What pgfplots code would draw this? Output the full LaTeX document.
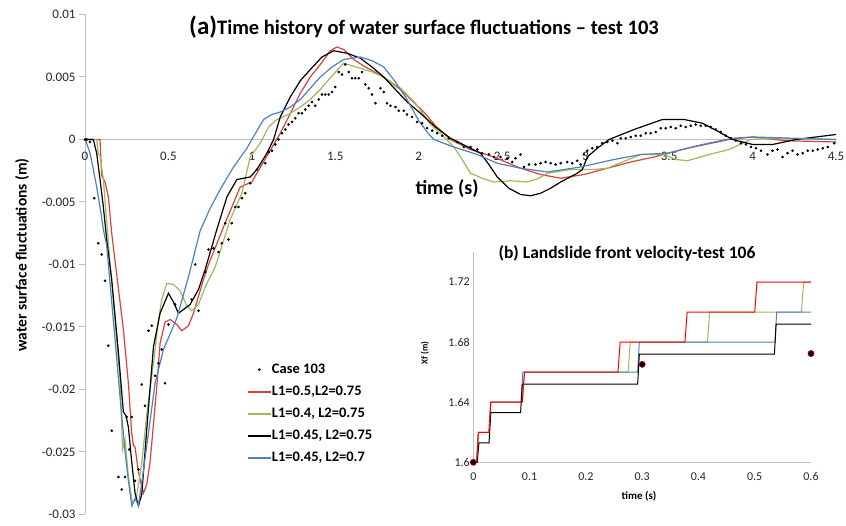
\documentclass[border=0pt]{standalone}
\usepackage{fontspec}
\setmainfont{Carlito}
\usepackage{pgfplots}
\pgfplotsset{compat=1.18}
\definecolor{cred}{RGB}{220,64,60}
\definecolor{cgreen}{RGB}{155,187,89}
\definecolor{cblue}{RGB}{79,129,189}
\definecolor{axgray}{RGB}{190,190,190}
\definecolor{ired}{RGB}{255,0,0}
\pgfplotsset{
  dotlegend/.style={legend image code/.code={\fill[black] (11pt,0pt) circle[radius=1.1pt];}},
  redlegend/.style={legend image code/.code={\fill[cred] (0pt,-0.5pt) rectangle (22pt,0.5pt);}},
  greenlegend/.style={legend image code/.code={\fill[cgreen] (0pt,-0.5pt) rectangle (22pt,0.5pt);}},
  blacklegend/.style={legend image code/.code={\fill[black] (0pt,-0.5pt) rectangle (22pt,0.5pt);}},
  bluelegend/.style={legend image code/.code={\fill[cblue] (0pt,-0.5pt) rectangle (22pt,0.5pt);}},
}
\begin{document}
\begin{tikzpicture}[x=1pt,y=1pt]
\useasboundingbox (0,0) rectangle (846,526);
\begin{axis}[
  at={(85pt,11.5pt)}, anchor=south west,
  scale only axis, width=751pt, height=500pt,
  xmin=0, xmax=4.5, ymin=-0.03, ymax=0.01,
  axis x line*=middle, axis y line*=left,
  hide obscured x ticks=false,
  axis line style={axgray, line width=1pt},
  xtick={0,0.5,1,1.5,2,2.5,3,3.5,4,4.5},
  xticklabels={0,0.5,1,1.5,2,2.5,3,3.5,4,4.5},
  ytick={-0.03,-0.025,-0.02,-0.015,-0.01,-0.005,0,0.005,0.01},
  yticklabels={-0.03,-0.025,-0.02,-0.015,-0.01,-0.005,0,0.005,0.01},
  scaled y ticks=false,
  tick align=outside, major tick length=6pt,
  xtick style={draw=none}, ytick style={axgray, line width=1pt},
  tick label style={font=\fontsize{13}{13}\selectfont, text=black!85},
  x tick label style={yshift=-3pt},
  clip=false,
  legend style={at={(0.2165,0.303)}, anchor=north west, draw=none, fill=none,
    font=\bfseries\fontsize{14.5}{14.5}\selectfont, row sep=9pt, inner sep=0pt,
    nodes={inner sep=1pt, text height=9pt, text depth=2pt}},
  legend cell align=left,
]
\addplot[only marks, mark=*, mark size=1.1pt, black, dotlegend] coordinates {
(0,0) (0.01,0) (0.03,-0.0002) (0.056,-0.0047) (0.08,-0.0083) (0.10,-0.0092) (0.12,-0.0113)
(0.14,-0.0165) (0.16,-0.0233) (0.20,-0.0270) (0.22,-0.0280) (0.24,-0.0270) (0.25,-0.0222)
(0.265,-0.0248) (0.28,-0.0222) (0.30,-0.0273) (0.32,-0.0264) (0.34,-0.0196) (0.36,-0.0213)
(0.38,-0.0153) (0.40,-0.0149) (0.42,-0.0189) (0.44,-0.0179) (0.46,-0.0168) (0.48,-0.0195)
(0.50,-0.0148) (0.54,-0.0132) (0.64,-0.0128) (0.66,-0.0100) (0.68,-0.0137) (0.72,-0.0106)
(0.74,-0.0088) (0.77,-0.0087) (0.80,-0.0090) (0.82,-0.0083) (0.84,-0.0067) (0.86,-0.0080)
(0.88,-0.0067) (0.90,-0.0054) (0.92,-0.0054) (0.94,-0.0047) (0.96,-0.0043) (0.99,-0.0035)
(1.03,-0.0024) (1.08,-0.0019) (1.10,-0.0010) (1.12,-0.0009) (1.14,-0.0004) (1.16,0)
(1.18,0.0005) (1.20,0.0008) (1.22,0.0012) (1.24,0.0014) (1.26,0.0017) (1.28,0.0021)
(1.30,0.0021) (1.32,0.0024) (1.34,0.0027) (1.36,0.0030) (1.38,0.0027) (1.40,0.0032)
(1.42,0.0036) (1.44,0.0036) (1.46,0.0036) (1.48,0.0038) (1.50,0.0042) (1.52,0.0054)
(1.54,0.0052) (1.56,0.0060) (1.58,0.0054) (1.60,0.0049) (1.62,0.0049) (1.64,0.0049)
(1.66,0.0054) (1.68,0.0044) (1.70,0.0041) (1.72,0.0036) (1.74,0.0029) (1.77,0.0041)
(1.79,0.0038) (1.81,0.0029) (1.83,0.0027) (1.86,0.0026) (1.88,0.0023) (1.91,0.0023)
(1.93,0.0020) (1.96,0.0018) (1.99,0.0014) (2.02,0.0013) (2.05,0.0009) (2.08,0.0007)
(2.11,0.0005) (2.14,0.0003) (2.18,0.0001) (2.23,-0.0002) (2.27,-0.0006) (2.31,-0.0006)
(2.35,-0.0008) (2.38,-0.0011) (2.42,-0.0012) (2.45,-0.0014) (2.49,-0.0014) (2.53,-0.0015)
(2.56,-0.0018) (2.58,-0.0015) (2.61,-0.0012) (2.63,-0.0022) (2.66,-0.0020) (2.70,-0.0020)
(2.73,-0.0019) (2.76,-0.0018) (2.79,-0.0019) (2.82,-0.0020) (2.85,-0.0019) (2.89,-0.0018)
(2.92,-0.0019) (2.95,-0.0017) (2.97,-0.0020) (2.99,-0.0012) (3.01,-0.0009) (3.04,-0.0007)
(3.07,-0.0006) (3.10,-0.0003) (3.13,-0.0002) (3.16,-0.0001) (3.19,-0.0003) (3.21,0.0001)
(3.24,0.0001) (3.27,0.0002) (3.30,0.0003) (3.33,0.0003) (3.36,0.0005) (3.39,0.0005)
(3.42,0.0006) (3.45,0.0009) (3.48,0.0009) (3.51,0.0010) (3.54,0.0009) (3.57,0.0011)
(3.60,0.0010) (3.63,0.0011) (3.66,0.0012) (3.69,0.0011) (3.72,0.0011) (3.75,0.0010)
(3.78,0.0008) (3.81,0.0006) (3.84,0.0003) (3.87,0.0001) (3.90,-0.0001) (3.93,-0.0003)
(3.96,-0.0004) (3.99,-0.0006) (4.02,-0.0007) (4.05,-0.0009) (4.09,-0.0012) (4.12,-0.0009)
(4.15,-0.0008) (4.18,-0.0014) (4.21,-0.0011) (4.24,-0.0009) (4.27,-0.0012) (4.30,-0.0011)
(4.33,-0.0009) (4.36,-0.0009) (4.39,-0.0008) (4.42,-0.0007) (4.45,-0.0006) (4.49,-0.0003)
};
\addlegendentry{Case 103}
\addplot[draw=cred, line width=1.2pt, redlegend] coordinates {
(0,0) (0.09,0) (0.10,-0.0029) (0.12,-0.0034) (0.14,-0.0046) (0.16,-0.0075) (0.17,-0.0086)
(0.20,-0.0119) (0.23,-0.0152) (0.26,-0.0195) (0.28,-0.0235) (0.29,-0.0245) (0.30,-0.0246)
(0.32,-0.0266) (0.35,-0.0283) (0.37,-0.0276) (0.39,-0.0258) (0.43,-0.0198) (0.45,-0.0163)
(0.48,-0.0146) (0.51,-0.0144) (0.55,-0.0148) (0.58,-0.0153) (0.62,-0.0149) (0.65,-0.0139)
(0.71,-0.0112) (0.74,-0.0100) (0.83,-0.0070) (0.93,-0.0038) (1.00,-0.0034) (1.03,-0.0027)
(1.10,-0.0011) (1.17,0.0005) (1.22,0.0018) (1.29,0.0037) (1.35,0.0050) (1.41,0.0060)
(1.47,0.0071) (1.51,0.0074) (1.55,0.0072) (1.61,0.0064) (1.68,0.0058) (1.75,0.0053)
(1.82,0.0047) (1.89,0.0040) (1.96,0.0031) (2.03,0.0022) (2.10,0.0011) (2.19,0.0000)
(2.31,-0.0008) (2.45,-0.0014) (2.61,-0.0023) (2.73,-0.0028) (2.85,-0.0031) (2.99,-0.0028)
(3.13,-0.0023) (3.27,-0.0018) (3.41,-0.0014) (3.61,-0.0007) (3.86,0.0000) (4.00,0.0002)
(4.20,-0.0001) (4.50,-0.0002)
};
\addlegendentry{L1=0.5,L2=0.75}
\addplot[draw=cgreen, line width=1.2pt, greenlegend] coordinates {
(0,0) (0.07,0) (0.08,-0.0012) (0.09,-0.0013) (0.11,-0.0032) (0.15,-0.0099) (0.18,-0.0145)
(0.21,-0.0192) (0.225,-0.0248) (0.24,-0.0240) (0.26,-0.0270) (0.285,-0.0292) (0.31,-0.0285)
(0.34,-0.0259) (0.37,-0.0220) (0.41,-0.0179) (0.44,-0.0145) (0.46,-0.0128) (0.49,-0.0115)
(0.53,-0.0116) (0.57,-0.0121) (0.61,-0.0133) (0.64,-0.0137) (0.68,-0.0132) (0.72,-0.0118)
(0.78,-0.0102) (0.87,-0.0064) (0.94,-0.0043) (0.99,-0.0014) (1.05,-0.0003) (1.10,0.0010)
(1.15,0.0016) (1.22,0.0020) (1.29,0.0026) (1.35,0.0032) (1.41,0.0040) (1.48,0.0051)
(1.55,0.0061) (1.60,0.0059) (1.65,0.0057) (1.72,0.0054) (1.79,0.0050) (1.89,0.0041)
(1.98,0.0029) (2.07,0.0012) (2.13,0.0005) (2.21,-0.0006) (2.26,-0.0016) (2.31,-0.0027)
(2.38,-0.0031) (2.45,-0.0034) (2.55,-0.0033) (2.65,-0.0034) (2.72,-0.0031) (2.77,-0.0027)
(2.91,-0.0024) (3.05,-0.0024) (3.13,-0.0023) (3.22,-0.0018) (3.33,-0.0012) (3.47,-0.0012)
(3.54,-0.0016) (3.61,-0.0017) (3.74,-0.0012) (3.86,-0.0008) (3.99,0.0000) (4.10,0.0001)
(4.50,0.0000)
};
\addlegendentry{L1=0.4, L2=0.75}
\addplot[draw=black, line width=1.2pt, blacklegend] coordinates {
(0,0) (0.05,0) (0.07,-0.0011) (0.09,-0.0032) (0.11,-0.0054) (0.13,-0.0080) (0.16,-0.0112)
(0.20,-0.0170) (0.23,-0.0218) (0.245,-0.0221) (0.26,-0.0230) (0.28,-0.0258) (0.30,-0.0283)
(0.32,-0.0293) (0.34,-0.0284) (0.37,-0.0232) (0.41,-0.0166) (0.45,-0.0139) (0.50,-0.0123)
(0.53,-0.0130) (0.56,-0.0139) (0.63,-0.0132) (0.68,-0.0120) (0.72,-0.0104) (0.79,-0.0072)
(0.85,-0.0046) (0.91,-0.0032) (0.99,-0.0030) (1.03,-0.0024) (1.09,-0.0011) (1.13,0.0000)
(1.17,0.0018) (1.23,0.0034) (1.29,0.0047) (1.35,0.0056) (1.42,0.0066) (1.49,0.0071)
(1.57,0.0069) (1.65,0.0065) (1.72,0.0058) (1.79,0.0050) (1.86,0.0040) (1.93,0.0030)
(2.01,0.0021) (2.10,0.0010) (2.19,0.0001) (2.28,-0.0005) (2.37,-0.0011) (2.42,-0.0020)
(2.47,-0.0030) (2.54,-0.0039) (2.61,-0.0044) (2.67,-0.0045) (2.73,-0.0043) (2.79,-0.0039)
(2.85,-0.0034) (2.95,-0.0027) (2.98,-0.0024) (3.01,-0.0014) (3.07,-0.0007) (3.14,0.0000)
(3.29,0.0008) (3.46,0.0016) (3.59,0.0016) (3.70,0.0013) (3.80,0.0006) (3.88,0.0000)
(4.00,-0.0004) (4.12,-0.0004) (4.26,0.0000) (4.50,0.0004)
};
\addlegendentry{L1=0.45, L2=0.75}
\addplot[draw=cblue, line width=1.2pt, bluelegend] coordinates {
(0,0) (0.01,-0.0003) (0.03,-0.0011) (0.05,-0.0024) (0.07,-0.0038) (0.09,-0.0054)
(0.11,-0.0072) (0.13,-0.0085) (0.15,-0.0115) (0.18,-0.0160) (0.21,-0.0206) (0.24,-0.0250)
(0.26,-0.0273) (0.28,-0.0293) (0.30,-0.0287) (0.32,-0.0293) (0.345,-0.0270) (0.37,-0.0245)
(0.42,-0.0195) (0.47,-0.0168) (0.55,-0.0143) (0.62,-0.0110) (0.69,-0.0073) (0.75,-0.0055)
(0.81,-0.0040) (0.89,-0.0022) (0.97,-0.0007) (1.00,0.0000) (1.07,0.0016) (1.12,0.0020)
(1.17,0.0022) (1.23,0.0026) (1.29,0.0032) (1.35,0.0041) (1.41,0.0050) (1.48,0.0058)
(1.55,0.0064) (1.65,0.0066) (1.72,0.0063) (1.79,0.0058) (1.86,0.0046) (1.93,0.0032)
(2.00,0.0015) (2.05,0.0006) (2.09,0.0000) (2.21,-0.0006) (2.35,-0.0012) (2.47,-0.0019)
(2.61,-0.0023) (2.77,-0.0026) (2.97,-0.0022) (3.17,-0.0016) (3.33,-0.0012) (3.49,-0.0011)
(3.70,-0.0004) (3.88,0.0001) (4.00,0.0002) (4.25,0.0001) (4.50,0.0000)
};
\addlegendentry{L1=0.45, L2=0.7}
\end{axis}
\node[rotate=90, font=\bfseries\fontsize{15.5}{15.5}\selectfont] at (22,271) {water surface fluctuations (m)};
\node[font=\bfseries\fontsize{20}{20}\selectfont] at (447,337) {time (s)};
\node at (424,499) {\bfseries\fontsize{25}{25}\selectfont (a)\fontsize{20.5}{20.5}\selectfont Time history of water surface fluctuations – test 103};
% inset
\begin{axis}[
  at={(473.3pt,63.7pt)}, anchor=south west,
  scale only axis, width=337.7pt, height=210.3pt,
  xmin=0, xmax=0.6, ymin=1.6, ymax=1.74,
  axis x line*=bottom, axis y line*=left,
  axis line style={axgray, line width=1pt},
  xtick={0,0.1,0.2,0.3,0.4,0.5,0.6},
  xticklabels={0,0.1,0.2,0.3,0.4,0.5,0.6},
  ytick={1.6,1.64,1.68,1.72},
  yticklabels={1.6,1.64,1.68,1.72},
  tick style={draw=none},
  tick label style={font=\fontsize{12}{12}\selectfont, text=black!85},
  x tick label style={yshift=-7pt},
  clip=false,
]
\addplot[draw=cgreen, line width=1pt] coordinates {
(0,1.6) (0.006,1.6) (0.009,1.62) (0.028,1.62) (0.031,1.64) (0.087,1.64) (0.091,1.66)
(0.275,1.66) (0.279,1.68) (0.416,1.68) (0.420,1.70) (0.583,1.70) (0.587,1.72) (0.6,1.72)
};
\addplot[draw=cblue, line width=1pt] coordinates {
(0,1.6) (0.006,1.6) (0.009,1.62) (0.028,1.62) (0.031,1.64) (0.085,1.64) (0.088,1.66)
(0.292,1.66) (0.295,1.68) (0.536,1.68) (0.539,1.70) (0.6,1.70)
};
\addplot[draw=black, line width=1pt] coordinates {
(0,1.6) (0.007,1.6) (0.010,1.613) (0.028,1.613) (0.031,1.633) (0.084,1.633) (0.087,1.652)
(0.292,1.652) (0.295,1.672) (0.535,1.672) (0.538,1.692) (0.6,1.692)
};
\addplot[draw=ired, line width=1pt] coordinates {
(0,1.6) (0.006,1.6) (0.009,1.62) (0.028,1.62) (0.031,1.64) (0.087,1.64) (0.091,1.66)
(0.257,1.66) (0.261,1.68) (0.376,1.68) (0.380,1.70) (0.500,1.70) (0.504,1.72) (0.6,1.72)
};
\addplot[only marks, mark=*, mark size=3pt, mark options={fill=black, draw=ired!70!black, line width=0.8pt}] coordinates {
(0,1.6) (0.3,1.6652) (0.6,1.6724)
};
\end{axis}
\node[rotate=90, font=\bfseries\fontsize{9}{9}\selectfont] at (425,173) {Xf (m)};
\node[font=\bfseries\fontsize{11}{11}\selectfont] at (639,30) {time (s)};
\node[font=\bfseries\fontsize{17.5}{17.5}\selectfont] at (627,273) {(b) Landslide front velocity-test 106};
\end{tikzpicture}
\end{document}
